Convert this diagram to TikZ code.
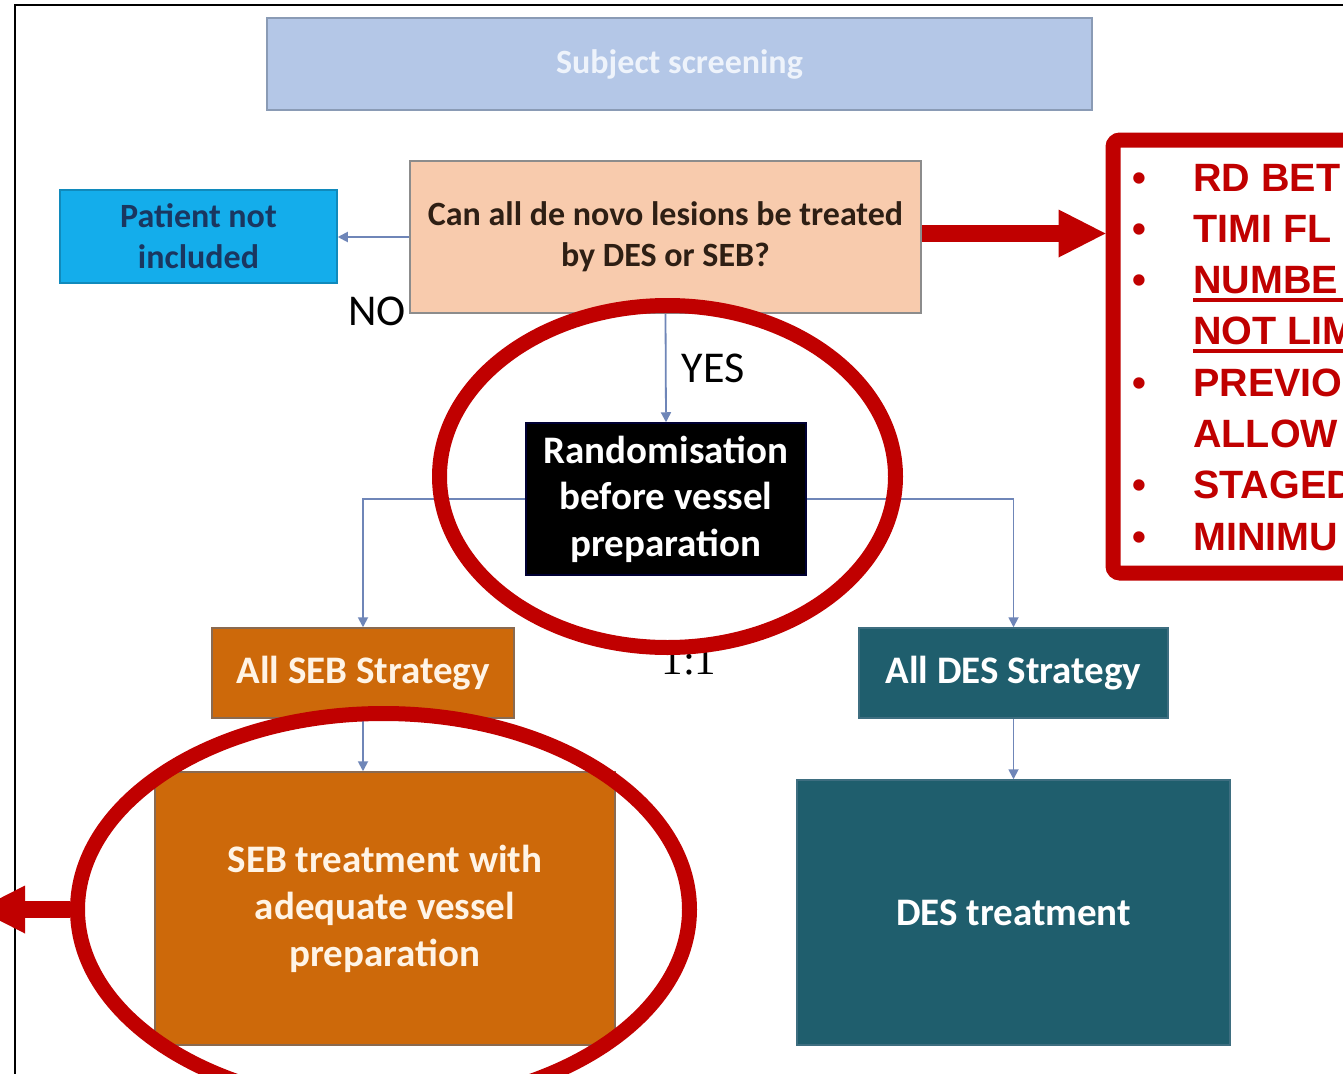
\documentclass[tikz,border=0pt]{standalone}
\usepackage{fontspec}
\setmainfont{Carlito}
\newfontfamily\redfont{Liberation Sans}
\newfontfamily\serffont{Liberation Serif}
\usetikzlibrary{shapes.geometric,arrows.meta,calc}
\definecolor{screenfill}{HTML}{B4C7E7}
\definecolor{screenborder}{HTML}{8A9BB5}
\definecolor{screentext}{HTML}{EEF3FB}
\definecolor{pnifill}{HTML}{14ADEB}
\definecolor{pnitext}{HTML}{1A3660}
\definecolor{canfill}{HTML}{F8CBAD}
\definecolor{canborder}{HTML}{8C8C8C}
\definecolor{cantext}{HTML}{2E1F14}
\definecolor{sebfill}{HTML}{CD690A}
\definecolor{sebborder}{HTML}{8A6A50}
\definecolor{sebtext}{HTML}{FFF4E6}
\definecolor{desfill}{HTML}{1F5E6D}
\definecolor{desborder}{HTML}{3E6E80}
\definecolor{connc}{HTML}{6F86B8}
\definecolor{redc}{HTML}{C00000}
\begin{document}
\begin{tikzpicture}[x=1pt,y=-1pt,
  box/.style={rectangle, inner sep=0pt, align=center, line width=1.5pt},
  conn/.style={draw=connc, line width=1.8pt, -{Triangle[length=10pt,width=10pt]}},
  redarrow/.style={draw=redc, line width=17pt, -{Triangle[length=47pt,width=48pt,line width=0pt]}},
  redring/.style={ellipse, draw=redc, line width=15pt, inner sep=0pt},
  lbl/.style={inner sep=0pt, font=\fontsize{44}{48}\selectfont, text=black},
  redtxt/.style={inner sep=0pt, anchor=base west, text=redc, font=\redfont\bfseries\fontsize{39.5}{46}\selectfont},
  redbul/.style={inner sep=0pt, anchor=base, text=redc, font=\redfont\bfseries\fontsize{39.5}{46}\selectfont}
]
\useasboundingbox (0,0) rectangle (1343,1073);
\clip (0,0) rectangle (1343,1073);
\fill[white] (0,0) rectangle (1343,1073);
% outer frame
\draw[black, line width=2pt] (15,1100) -- (15,5) -- (1400,5);

% boxes
\node[box, fill=screenfill, draw=screenborder, minimum width=825pt, minimum height=92pt,
      text=screentext, font=\bfseries\fontsize{34}{38}\selectfont] (screen) at (679.5,64) {Subject screening};
\node[box, fill=pnifill, draw=pnifill!80!black, minimum width=277pt, minimum height=93pt,
      text=pnitext, font=\bfseries\fontsize{34}{41}\selectfont] (pni) at (198.5,236.5) {Patient not\\included};
\node[box, fill=canfill, draw=canborder, minimum width=511pt, minimum height=152pt,
      text=cantext, font=\bfseries\fontsize{34}{41}\selectfont] (can) at (665.5,237) {Can all de novo lesions be treated\\by DES or SEB?};
\node[box, fill=black, draw=black!80!blue, minimum width=280pt, minimum height=152pt,
      text=white, font=\bfseries\fontsize{39}{46.5}\selectfont] (rand) at (666,499) {Randomisation\\before vessel\\preparation};
\node[box, fill=sebfill, draw=sebborder, minimum width=302pt, minimum height=90pt,
      text=sebtext, font=\bfseries\fontsize{39}{42}\selectfont] (sebs) at (363,673) {All SEB Strategy};
\node[box, fill=desfill, draw=desborder, minimum width=309pt, minimum height=90pt,
      text=white, font=\bfseries\fontsize{39}{42}\selectfont] (dess) at (1013.5,673) {All DES Strategy};
\node[box, fill=sebfill, draw=sebborder, minimum width=460pt, minimum height=273pt,
      text=sebtext, font=\bfseries\fontsize{39}{47}\selectfont] (sebt) at (385,908.5) {SEB treatment with\\adequate vessel\\preparation};
\node[box, fill=desfill, draw=desborder, minimum width=433pt, minimum height=265pt,
      text=white, font=\bfseries\fontsize{39}{47}\selectfont] (dest) at (1013.5,912.5) {DES treatment};

% connectors
\draw[conn] (can.west) -- (can.west -| pni.east);
\draw[conn] (can.south) -- (rand.north);
\draw[conn] (rand.west) -| (sebs.north);
\draw[conn] (rand.east) -| (dess.north);
\draw[conn] (sebs.south) -- (sebs.south |- sebt.north);
\draw[conn] (dess.south) -- (dess.south |- dest.north);

% labels
\node[lbl] (no) at (377,311) {NO};
\node[lbl] (yes) at (713,368) {YES};
\node[inner sep=0pt, anchor=base, font=\serffont\fontsize{43}{46}\selectfont] (ratio) at (689,674) {1:1};

% red annotations
\node[redring, minimum width=456pt, minimum height=342pt] (ell1) at (667.5,476.5) {};
\node[redring, minimum width=612pt, minimum height=392pt] (ell2) at (383.5,909.5) {};
\node[rectangle, draw=redc, line width=15pt, rounded corners=7pt, inner sep=0pt,
      minimum width=387pt, minimum height=433pt] (redbox) at (1306.5,356.5) {};
\coordinate (ra1) at ($(can.east)+(0,-3.5)$);
\draw[redarrow] (ra1) -- (ra1 -| redbox.west);
\coordinate (tipL) at (-22,909.5);
\draw[redarrow] (ell2.west) -- (tipL);

\node[redbul] (b1) at (1139,191) {•};
\node[redbul] (b2) at (1139,242) {•};
\node[redbul] (b3) at (1139,293) {•};
\node[redbul] (b4) at (1139,396) {•};
\node[redbul] (b5) at (1139,498) {•};
\node[redbul] (b6) at (1139,550) {•};
\node[redtxt] (t1) at (1193,191) {RD BET};
\node[redtxt] (t2) at (1193,242) {TIMI FL};
\node[redtxt] (t3) at (1193,293) {\rlap{\rule[-8.5pt]{200pt}{3.5pt}}NUMBE};
\node[redtxt] (t4) at (1193,344) {\rlap{\rule[-8.5pt]{200pt}{3.5pt}}NOT LIM};
\node[redtxt] (t5) at (1193,396) {PREVIO};
\node[redtxt] (t6) at (1193,447) {ALLOW};
\node[redtxt] (t7) at (1193,498) {STAGED};
\node[redtxt] (t8) at (1193,550) {MINIMU};
\end{tikzpicture}
\end{document}
